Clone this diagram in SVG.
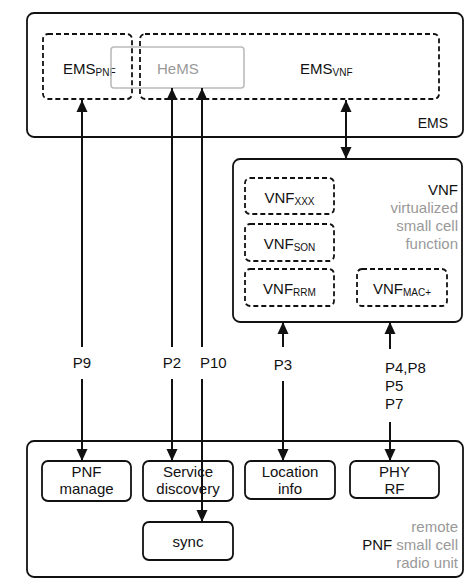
<svg xmlns="http://www.w3.org/2000/svg" width="470" height="587" viewBox="0 0 470 587">
<style>
text{font-family:"Liberation Sans",Arial,sans-serif;font-size:15px;fill:#111}
.g{fill:#999}
.sub{font-size:10px}
.box{fill:#fff;stroke:#111;stroke-width:1.8}
.dash{fill:none;stroke:#111;stroke-width:1.8;stroke-dasharray:5 3}
.hems{fill:none;stroke:#bbb;stroke-width:1.6}
.c{text-anchor:middle}
.r{text-anchor:end}
.ln{stroke:#111;stroke-width:2;fill:none}
</style>
<defs>
<marker id="ah" viewBox="0 0 12 12" refX="12" refY="6" markerWidth="12" markerHeight="12" markerUnits="userSpaceOnUse" orient="auto-start-reverse">
<path d="M0,0.5 L12,6 L0,11.5 z" fill="#111"/>
</marker>
</defs>
<rect width="470" height="587" fill="#fff"/>

<g id="ems">
<rect class="box" x="27" y="13" width="436" height="124" rx="7"/>
<text class="r" x="448" y="128" style="font-size:14px">EMS</text>
</g>
<g id="ems-pnf">
<rect class="dash" x="43" y="34" width="89" height="65" rx="5"/>
<text x="63" y="74">EMS<tspan class="sub" dy="2">PNF</tspan></text>
</g>
<g id="hems">
<rect class="hems" x="111" y="47" width="133" height="41" rx="3"/>
<text class="g" x="157" y="74">HeMS</text>
</g>
<g id="ems-vnf">
<rect class="dash" x="140" y="34" width="299" height="65" rx="5"/>
<text x="300" y="74">EMS<tspan class="sub" dy="2">VNF</tspan></text>
</g>

<g id="vnf">
<rect class="box" x="233" y="159" width="229" height="163" rx="7"/>
<text class="r" x="458" y="195">VNF</text>
<text class="r g" x="458" y="213">virtualized</text>
<text class="r g" x="458" y="231">small cell</text>
<text class="r g" x="458" y="249">function</text>
</g>
<g id="vnf-xxx">
<rect class="dash" x="245" y="178" width="89" height="36" rx="5"/>
<text class="c" x="289.5" y="203">VNF<tspan class="sub" dy="2">XXX</tspan></text>
</g>
<g id="vnf-son">
<rect class="dash" x="245" y="224" width="89" height="37" rx="5"/>
<text class="c" x="289.5" y="249">VNF<tspan class="sub" dy="2">SON</tspan></text>
</g>
<g id="vnf-rrm">
<rect class="dash" x="245" y="269" width="89" height="37" rx="5"/>
<text class="c" x="289.5" y="294">VNF<tspan class="sub" dy="2">RRM</tspan></text>
</g>
<g id="vnf-mac">
<rect class="dash" x="357" y="269" width="90" height="37" rx="5"/>
<text class="c" x="402" y="294">VNF<tspan class="sub" dy="2">MAC+</tspan></text>
</g>

<g id="pnf">
<rect class="box" x="27" y="441" width="436" height="136" rx="7"/>
<text class="r g" x="458" y="532">remote</text>
<text class="r" x="458" y="550">PNF <tspan class="g">small cell</tspan></text>
<text class="r g" x="458" y="568">radio unit</text>
</g>
<g id="pnf-manage">
<rect class="box" x="42" y="461" width="89" height="40" rx="6"/>
<text class="c" x="86.5" y="477">PNF</text>
<text class="c" x="86.5" y="494">manage</text>
</g>
<g id="service-discovery">
<rect class="box" x="143" y="461" width="90" height="40" rx="6"/>
<text class="c" x="188" y="477">Service</text>
<text class="c" x="188" y="494">discovery</text>
</g>
<g id="location-info">
<rect class="box" x="245" y="461" width="90" height="38" rx="6"/>
<text class="c" x="290" y="477">Location</text>
<text class="c" x="290" y="494">info</text>
</g>
<g id="phy-rf">
<rect class="box" x="350" y="461" width="89" height="37" rx="6"/>
<text class="c" x="394.5" y="477">PHY</text>
<text class="c" x="394.5" y="494">RF</text>
</g>
<g id="sync">
<rect class="box" x="143" y="522" width="90" height="38" rx="6"/>
<text class="c" x="188" y="547">sync</text>
</g>

<g id="connectors">
<path class="ln" d="M82,347 V100" marker-end="url(#ah)"/>
<path class="ln" d="M82,379 V461" marker-end="url(#ah)"/>
<text class="c" x="82" y="368">P9</text>
<path class="ln" d="M172,347 V88" marker-end="url(#ah)"/>
<path class="ln" d="M172,379 V461" marker-end="url(#ah)"/>
<text class="c" x="172" y="368">P2</text>
<path class="ln" d="M202,347 V88" marker-end="url(#ah)"/>
<path class="ln" d="M202,379 V522" marker-end="url(#ah)"/>
<text x="200" y="368">P10</text>
<path class="ln" d="M346,100 V159" marker-start="url(#ah)" marker-end="url(#ah)"/>
<path class="ln" d="M283,347 V322" marker-end="url(#ah)"/>
<path class="ln" d="M283,381 V461" marker-end="url(#ah)"/>
<text class="c" x="283" y="370">P3</text>
<path class="ln" d="M390,349 V322" marker-end="url(#ah)"/>
<path class="ln" d="M390,422 V461" marker-end="url(#ah)"/>
<text x="385" y="373">P4,P8</text>
<text x="385" y="391">P5</text>
<text x="385" y="409">P7</text>
</g>
</svg>
